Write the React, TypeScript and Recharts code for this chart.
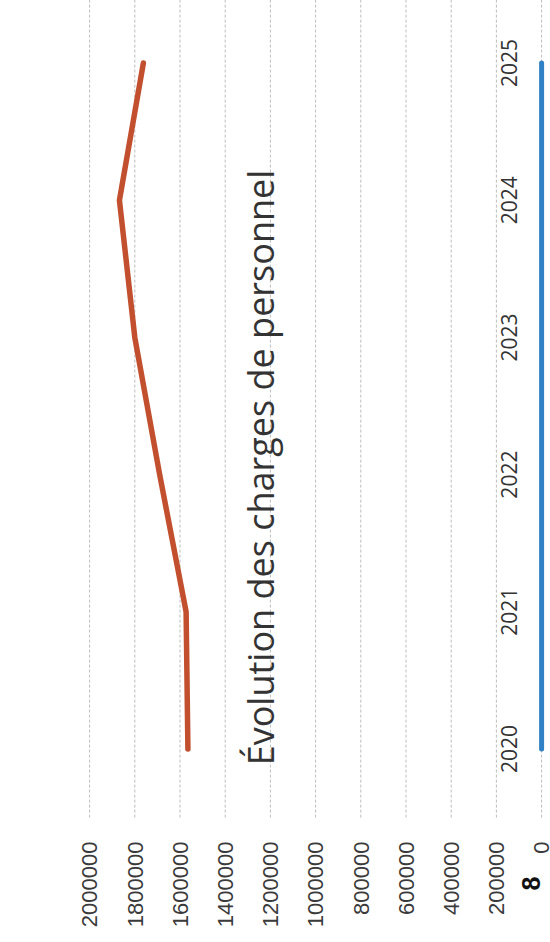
import { CartesianGrid, Line, LineChart, XAxis, YAxis } from 'recharts'

const years = ['2020', '2021', '2022', '2023', '2024', '2025']
const chargesPersonnel = [1565000, 1573000, 1690000, 1800000, 1868000, 1762000]
const autreSerie = [0, 0, 0, 0, 0, 0]
const valueTicks = [0, 200000, 400000, 600000, 800000, 1000000, 1200000, 1400000, 1600000, 1800000, 2000000]

const data = years.map((year, i) => ({
  year,
  charges: chargesPersonnel[i],
  autre: autreSerie[i],
}))

// the scanned page is turned a quarter turn, so the chart is drawn flat and rotated
const W = 960
const H = 550

function YearTick({ x, y, payload }: any) {
  return (
    <text x={x} y={y - 25} textAnchor="middle" fontFamily="Open Sans" fontSize={21} fill="#333333">
      {payload.value}
    </text>
  )
}

export default function App() {
  return (
    <div
      style={{
        position: 'fixed',
        left: 0,
        top: 0,
        width: 550,
        height: 942,
        overflow: 'hidden',
        background: '#ffffff',
      }}
    >
      <div
        style={{
          position: 'absolute',
          left: 0,
          top: 0,
          width: W,
          height: H,
          transformOrigin: '0 0',
          transform: 'translateY(942px) rotate(-90deg)',
        }}
      >
        <LineChart width={W} height={H} data={data} margin={{ top: 89.6, right: 12.4, bottom: 0, left: 0 }}>
          <CartesianGrid vertical={false} stroke="#bdbdbd" strokeDasharray="3 2" />
          <XAxis
            dataKey="year"
            height={8.4}
            padding={{ left: 68.6, right: 68.6 }}
            axisLine={false}
            tickLine={false}
            tickSize={0}
            tickMargin={0}
            interval={0}
            tick={<YearTick />}
          />
          <YAxis
            width={124.4}
            domain={[0, 2000000]}
            ticks={valueTicks}
            interval={0}
            axisLine={false}
            tickLine={false}
            tickSize={0}
            tickMargin={24}
            tick={{ fontFamily: 'Liberation Sans', fontSize: 22, fill: '#3a3a3a' }}
          />
          <Line
            dataKey="charges"
            stroke="#c2502f"
            strokeWidth={5.5}
            strokeLinecap="round"
            strokeLinejoin="round"
            dot={false}
            isAnimationActive={false}
          />
          <Line
            dataKey="autre"
            stroke="#2f80c4"
            strokeWidth={5}
            strokeLinecap="round"
            dot={false}
            isAnimationActive={false}
          />
        </LineChart>
        <svg width={W} height={H} style={{ position: 'absolute', left: 0, top: 0, pointerEvents: 'none' }}>
          <text x={474.5} y={274} textAnchor="middle" fontFamily="Open Sans" fontSize={36} fill="#333333">
            Évolution des charges de personnel
          </text>
          <text x={58.5} y={540} textAnchor="middle" fontFamily="Liberation Sans" fontWeight="bold" fontSize={25} fill="#111111">
            8
          </text>
        </svg>
      </div>
    </div>
  )
}
